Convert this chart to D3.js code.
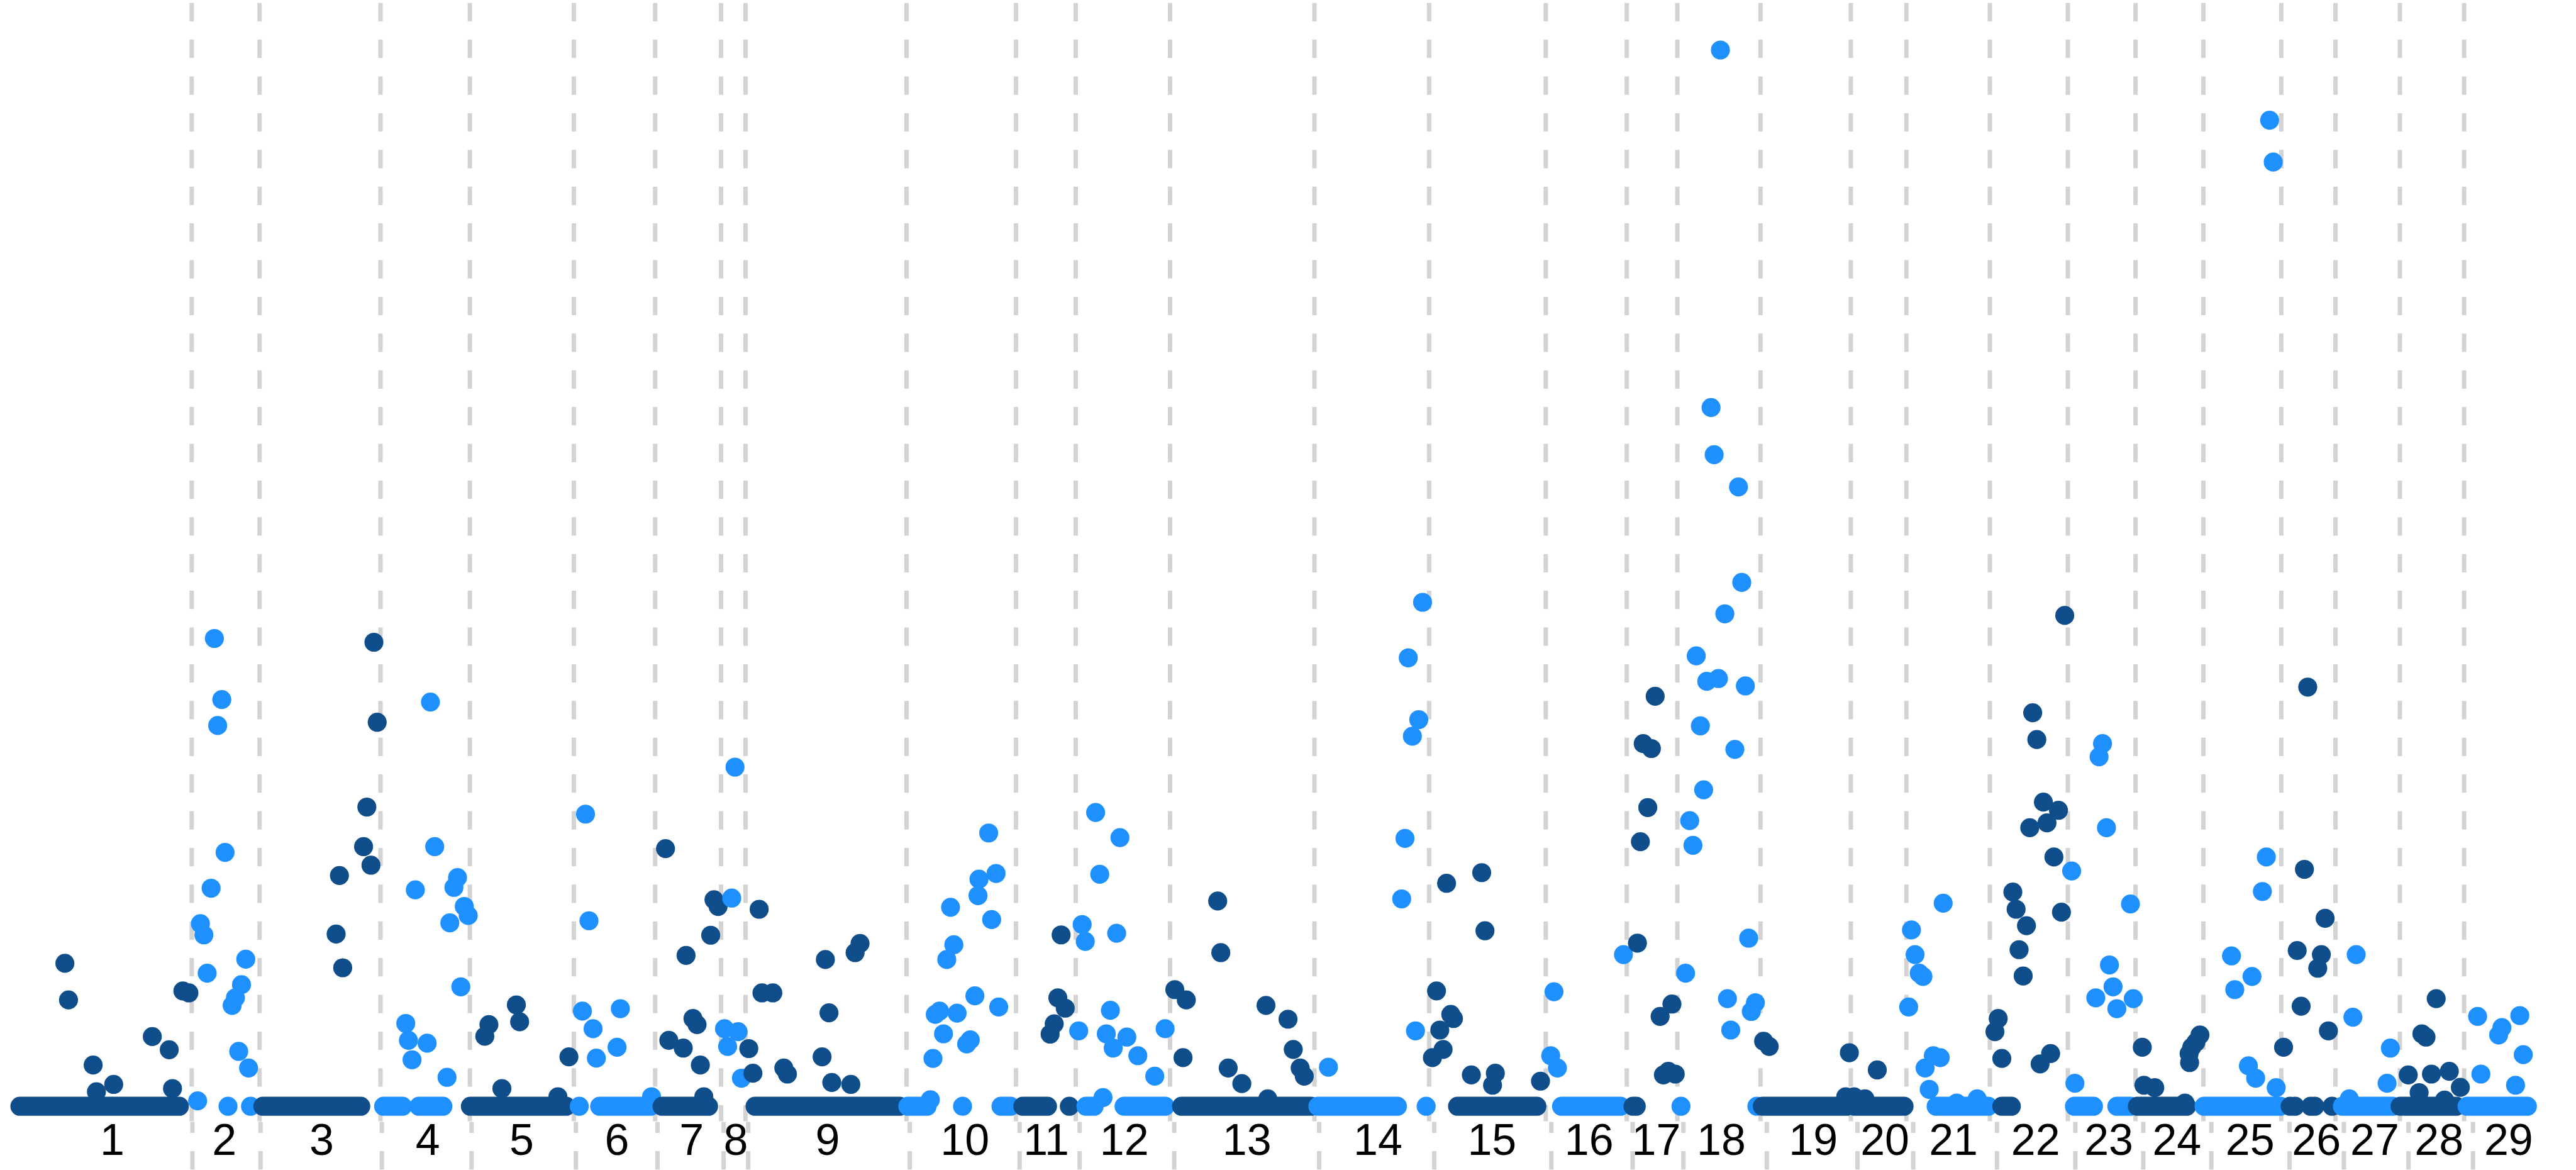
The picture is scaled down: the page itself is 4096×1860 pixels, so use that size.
<!DOCTYPE html>
<html>
<head>
<meta charset="utf-8">
<script src="https://cdn.jsdelivr.net/npm/d3@7"></script>
<style>
  body { margin: 0; background: white; overflow: hidden; }
</style>
</head>
<body>
<div class="manhattan"></div>
<script>

// chromosomes, left to right, and which blue each one gets (20 stays dark like 19)
let chromosomes = [1, 2, 3, 4, 5, 6, 7, 8, 9, 10, 11, 12, 13, 14, 15, 16, 17, 18, 19, 20, 21, 22, 23, 24, 25, 26, 27, 28, 29];
let chrShade = ["dark", "light", "dark", "light", "dark", "light", "dark", "light", "dark", "light",
                "dark", "light", "dark", "light", "dark", "light", "dark", "light", "dark", "dark",
                "light", "dark", "light", "dark", "light", "dark", "light", "dark", "light"];

// genome axis positions where one chromosome stops and the next starts
let chrBreaks = [116.7, 158.0, 231.6, 286.0, 349.3, 398.8, 438.9, 453.8, 551.8, 618.4, 654.8, 712.2, 800.1, 869.9,
                 940.9, 990.2, 1021.0, 1071.6, 1126.6, 1160.4, 1211.2, 1258.7, 1299.9, 1341.2, 1388.6, 1421.6, 1460.8, 1499.9];

// where the chromosome names sit
let labelPos = [68.1, 136.1, 195.1, 259.5, 316.4, 374.2, 419.5, 446.3, 502.0, 585.2, 634.6, 681.9, 756.3, 835.7, 904.9,
                963.8, 1004.5, 1044.0, 1099.8, 1143.2, 1184.8, 1234.6, 1279.0, 1320.3, 1364.7, 1404.9, 1440.3, 1479.3, 1521.5];

// single snps: [chromosome, position, score]
let hits = [
  [1, 39.5, 87.0], [1, 41.7, 64.7], [1, 56.7, 25.1], [1, 58.7, 8.8], [1, 69.2, 13.3], [1, 92.7, 42.4], [1, 103.0, 34.4],
  [1, 105.0, 10.8], [1, 111.3, 70.2], [1, 115.0, 69.0],
  [2, 130.5, 284.7], [2, 135.0, 247.5], [2, 132.5, 231.7], [2, 137.0, 154.5], [2, 128.5, 132.7], [2, 122.0, 111.1],
  [2, 124.1, 104.3], [2, 126.1, 81.0], [2, 149.6, 89.5], [2, 147.0, 74.0], [2, 143.3, 66.0], [2, 141.3, 61.4],
  [2, 145.3, 33.4], [2, 151.3, 23.3], [2, 120.3, 3.3], [2, 138.8, 0], [2, 152.5, 0],
  [3, 227.6, 282.4], [3, 229.6, 233.7], [3, 223.3, 182.1], [3, 221.3, 158.0], [3, 225.8, 146.7], [3, 206.6, 140.4],
  [3, 204.6, 104.8], [3, 208.6, 84.3],
  [4, 262.0, 246.0], [4, 264.6, 158.0], [4, 252.8, 131.7], [4, 247.0, 50.4], [4, 248.6, 40.1], [4, 260.0, 38.4],
  [4, 250.8, 28.3], [4, 278.5, 139.2], [4, 276.3, 133.2], [4, 282.6, 121.6], [4, 285.0, 116.1], [4, 273.8, 111.6],
  [4, 280.5, 72.7], [4, 272.1, 17.6],
  [5, 297.6, 49.7], [5, 295.1, 42.6], [5, 314.3, 61.7], [5, 316.3, 51.4], [5, 305.5, 10.8], [5, 339.6, 5.8], [5, 346.3, 30.1],
  [6, 356.4, 177.8], [6, 358.5, 112.9], [6, 354.5, 57.9], [6, 361.0, 47.2], [6, 363.0, 29.3], [6, 377.6, 59.4],
  [6, 375.6, 35.9], [6, 396.6, 5.8], [6, 352.6, 0],
  [7, 405.1, 156.8], [7, 417.6, 91.8], [7, 432.6, 104.1], [7, 434.6, 125.7], [7, 437.1, 121.6], [7, 421.8, 53.4],
  [7, 424.3, 49.7], [7, 407.1, 40.1], [7, 415.9, 35.4], [7, 426.3, 25.1], [7, 428.4, 5.8],
  [8, 447.4, 206.4], [8, 445.4, 126.7], [8, 441.0, 47.2], [8, 449.3, 45.4], [8, 442.9, 36.4], [8, 451.3, 17.1],
  [9, 462.1, 119.9], [9, 463.8, 69.0], [9, 470.4, 69.0], [9, 455.8, 35.1], [9, 458.3, 20.1], [9, 477.1, 23.3],
  [9, 479.3, 19.6], [9, 502.4, 89.3], [9, 504.6, 56.9], [9, 500.4, 30.1], [9, 506.3, 14.5], [9, 517.9, 13.3],
  [9, 520.5, 93.5], [9, 523.5, 99.1],
  [10, 601.8, 166.3], [10, 595.9, 138.2], [10, 606.3, 141.7], [10, 595.3, 128.2], [10, 578.6, 121.1], [10, 603.6, 113.6],
  [10, 580.6, 98.3], [10, 576.3, 89.3], [10, 571.9, 57.9], [10, 569.3, 55.9], [10, 582.6, 56.7], [10, 593.4, 67.2],
  [10, 607.9, 60.4], [10, 574.3, 44.1], [10, 590.6, 40.4], [10, 588.4, 37.9], [10, 567.9, 29.1], [10, 566.3, 4.0],
  [10, 585.9, 0],
  [11, 645.9, 104.3], [11, 643.9, 66.0], [11, 648.4, 59.7], [11, 641.7, 50.2], [11, 639.2, 43.9], [11, 650.9, 0],
  [12, 666.9, 178.8], [12, 681.7, 163.5], [12, 669.4, 141.2], [12, 658.7, 110.6], [12, 660.6, 100.3], [12, 679.7, 105.3],
  [12, 675.9, 58.4], [12, 656.6, 45.9], [12, 673.4, 44.1], [12, 677.6, 35.4], [12, 685.9, 42.1], [12, 692.6, 30.8],
  [12, 702.9, 18.3], [12, 709.2, 47.2], [12, 671.4, 5.3],
  [13, 741.2, 124.9], [13, 743.1, 93.5], [13, 715.1, 71.0], [13, 722.1, 64.7], [13, 720.1, 29.6], [13, 747.6, 23.3],
  [13, 755.9, 13.8], [13, 770.6, 61.4], [13, 784.0, 53.0], [13, 787.2, 34.6], [13, 791.4, 23.3], [13, 793.9, 18.3],
  [13, 771.7, 4.5],
  [14, 865.9, 306.7], [14, 857.2, 272.9], [14, 863.6, 235.3], [14, 859.7, 225.2], [14, 855.2, 163.0], [14, 853.2, 126.2],
  [14, 861.6, 45.9], [14, 808.6, 23.8], [14, 868.1, 0],
  [15, 880.5, 135.7], [15, 901.9, 142.2], [15, 903.9, 106.8], [15, 874.4, 70.2], [15, 883.1, 55.9], [15, 884.7, 53.4],
  [15, 876.4, 46.4], [15, 878.4, 34.6], [15, 871.9, 29.6], [15, 895.6, 19.1], [15, 910.2, 20.1], [15, 908.5, 12.8],
  [15, 937.7, 15.3],
  [16, 945.9, 69.7], [16, 943.9, 30.8], [16, 948.0, 23.3], [16, 988.2, 92.3],
  [17, 1007.5, 249.5], [17, 1000.2, 220.7], [17, 1005.2, 217.7], [17, 1003.0, 181.8], [17, 998.5, 161.0], [17, 996.7, 99.3],
  [17, 1017.7, 62.2], [17, 1010.5, 54.7], [17, 1012.5, 19.1], [17, 1015.5, 21.3], [17, 1019.7, 19.6],
  [18, 1047.2, 642.8], [18, 1041.5, 425.2], [18, 1043.4, 396.5], [18, 1058.2, 376.9], [18, 1060.2, 318.8], [18, 1049.9, 299.7],
  [18, 1032.5, 274.1], [18, 1038.9, 258.6], [18, 1046.0, 260.3], [18, 1062.4, 255.8], [18, 1035.0, 231.5], [18, 1056.0, 217.2],
  [18, 1037.0, 192.6], [18, 1028.5, 173.8], [18, 1030.5, 158.8], [18, 1064.4, 102.3], [18, 1026.0, 81.0], [18, 1051.5, 65.5],
  [18, 1068.5, 63.0], [18, 1066.0, 57.7], [18, 1053.5, 46.4], [18, 1023.2, 0], [18, 1069.4, 0],
  [19, 1073.5, 39.6], [19, 1076.9, 36.4], [19, 1125.7, 32.6], [19, 1123.5, 5.8],
  [20, 1142.7, 22.1], [20, 1128.5, 5.8], [20, 1135.2, 4.5],
  [21, 1182.8, 123.6], [21, 1163.5, 107.3], [21, 1165.7, 92.3], [21, 1168.2, 81.0], [21, 1170.5, 79.0], [21, 1161.8, 60.4],
  [21, 1176.8, 30.8], [21, 1181.0, 29.6], [21, 1171.8, 23.3], [21, 1174.3, 10.3], [21, 1191.0, 2.0], [21, 1203.5, 4.5],
  [22, 1256.8, 298.7], [22, 1237.3, 239.5], [22, 1239.8, 223.2], [22, 1243.8, 185.1], [22, 1253.0, 180.1], [22, 1246.0, 172.5],
  [22, 1235.5, 169.5], [22, 1250.2, 151.7], [22, 1225.2, 130.4], [22, 1227.2, 119.9], [22, 1233.5, 109.9], [22, 1254.8, 118.1],
  [22, 1229.0, 95.3], [22, 1231.5, 79.3], [22, 1216.3, 53.4], [22, 1214.3, 45.4], [22, 1218.5, 29.1], [22, 1248.2, 32.1],
  [22, 1241.8, 25.8],
  [23, 1279.8, 220.7], [23, 1277.7, 212.7], [23, 1282.2, 169.5], [23, 1261.0, 143.2], [23, 1296.8, 123.1], [23, 1284.0, 86.0],
  [23, 1286.2, 72.7], [23, 1275.7, 66.0], [23, 1288.5, 59.4], [23, 1298.5, 65.5], [23, 1263.0, 14.0],
  [24, 1304.0, 35.9], [24, 1305.0, 12.8], [24, 1311.6, 11.3], [24, 1339.1, 43.4], [24, 1336.6, 38.9], [24, 1334.1, 35.9],
  [24, 1332.5, 32.1], [24, 1332.8, 26.6], [24, 1330.0, 2.0],
  [25, 1381.5, 600.1], [25, 1383.7, 574.6], [25, 1379.5, 151.7], [25, 1377.1, 130.7], [25, 1358.3, 91.5], [25, 1360.3, 71.0],
  [25, 1370.8, 79.0], [25, 1368.6, 24.6], [25, 1373.0, 17.1], [25, 1385.5, 11.3],
  [26, 1404.7, 255.1], [26, 1402.7, 144.2], [26, 1415.3, 114.4], [26, 1398.3, 94.8], [26, 1413.0, 92.3], [26, 1410.8, 84.0],
  [26, 1400.7, 60.9], [26, 1417.3, 45.9], [26, 1390.0, 35.9], [26, 1394.0, 0], [26, 1397.0, 0], [26, 1406.5, 0],
  [26, 1409.0, 0], [26, 1419.5, 0],
  [27, 1434.2, 92.3], [27, 1432.2, 54.2], [27, 1455.0, 35.4], [27, 1453.0, 14.0], [27, 1430.0, 4.5],
  [28, 1482.9, 65.5], [28, 1474.2, 44.1], [28, 1476.7, 42.1], [28, 1465.9, 19.1], [28, 1480.0, 19.6], [28, 1490.9, 21.3],
  [28, 1497.6, 11.5], [28, 1472.5, 8.3], [28, 1488.0, 3.8],
  [29, 1508.1, 54.7], [29, 1522.9, 47.9], [29, 1520.9, 43.4], [29, 1533.8, 55.2], [29, 1535.9, 31.4], [29, 1510.1, 19.6],
  [29, 1531.2, 12.8]
];

// stretches of snps packed on the floor (score 0): [chromosome, from, to]
let floorRuns = [
  [1, 12.1, 109.2], [3, 160.0, 219.6], [4, 233.5, 245.0], [4, 255.0, 269.6], [5, 286.3, 344.6], [6, 365.0, 396.0],
  [7, 403.0, 431.3], [9, 459.6, 547.6], [10, 552.6, 564.3], [10, 609.3, 615.1], [11, 622.6, 637.6], [12, 661.0, 666.0],
  [12, 684.2, 709.2], [13, 719.2, 798.0], [14, 802.2, 850.6], [15, 887.2, 935.5], [16, 950.5, 986.4], [17, 994.0, 996.0],
  [19, 1072.7, 1124.0], [20, 1129.0, 1159.0], [21, 1178.5, 1210.2], [22, 1218.5, 1224.3], [23, 1262.7, 1274.3],
  [23, 1288.5, 1296.8], [24, 1301.0, 1331.0], [25, 1341.6, 1388.0], [27, 1425.8, 1456.7], [28, 1460.9, 1495.1],
  [29, 1501.7, 1538.4]
];

let shadeColour = { dark: "#104E8B", light: "#1E90FF" };

let width = 4096, height = 1860;
let dotR = 15.1;

let svg = d3.select(".manhattan")
  .append("svg")
  .attr("width", width)
  .attr("height", height)
  .style("background-color", "white");

// the genome axis; the strip with the names underneath is a touch wider
let x = d3.scaleLinear().domain([0, 1568]).range([0, width]);
let xStrip = d3.scaleLinear().domain([0, 1568]).range([0, width * 1.0036]);
let y = d3.scaleLinear().domain([0, 650]).range([1758.7, 60.7]);

// dashed separators, upper part
svg.append("g")
  .selectAll("line")
  .data(chrBreaks)
  .join("line")
  .attr("x1", d => x(d))
  .attr("x2", d => x(d))
  .attr("y1", 0)
  .attr("y2", 1782.5)
  .attr("stroke", "#d3d3d3")
  .attr("stroke-width", 7)
  .attr("stroke-dasharray", "29.2 29.2")
  .attr("stroke-dashoffset", 53.7);

// and the bit running through the labels
svg.append("g")
  .selectAll("line")
  .data(chrBreaks)
  .join("line")
  .attr("x1", d => xStrip(d))
  .attr("x2", d => xStrip(d))
  .attr("y1", 1783.5)
  .attr("y2", height)
  .attr("stroke", "#d3d3d3")
  .attr("stroke-width", 7)
  .attr("stroke-dasharray", "29.2 29.2")
  .attr("stroke-dashoffset", 11.8);

// points, one chromosome after another so later ones sit on top
chromosomes.forEach(function(c, i) {
  let colour = shadeColour[chrShade[i]];
  let g = svg.append("g").attr("class", "chr" + c);

  g.selectAll("line")
    .data(floorRuns.filter(d => d[0] === c))
    .join("line")
    .attr("x1", d => x(d[1]))
    .attr("x2", d => x(d[2]))
    .attr("y1", y(0))
    .attr("y2", y(0))
    .attr("stroke", colour)
    .attr("stroke-width", dotR * 2)
    .attr("stroke-linecap", "round");

  g.selectAll("circle")
    .data(hits.filter(d => d[0] === c))
    .join("circle")
    .attr("cx", d => x(d[1]))
    .attr("cy", d => y(d[2]))
    .attr("r", dotR)
    .attr("fill", colour);
});

// chromosome names
svg.append("g")
  .selectAll("text")
  .data(chromosomes)
  .join("text")
  .attr("x", (d, i) => xStrip(labelPos[i]))
  .attr("y", 1836)
  .attr("text-anchor", "middle")
  .attr("font-family", "'Liberation Sans', Arial, sans-serif")
  .attr("font-size", 70)
  .attr("fill", "black")
  .text(d => d);

</script>
</body>
</html>
